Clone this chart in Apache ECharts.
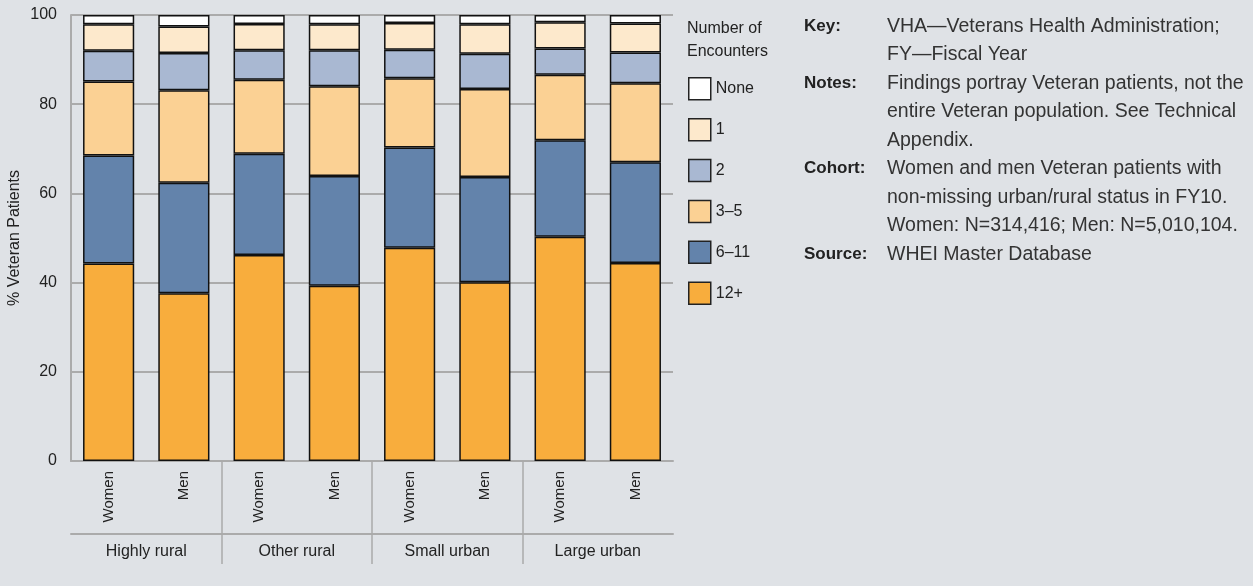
<!DOCTYPE html>
<html>
<head>
<meta charset="utf-8">
<script src="https://cdn.jsdelivr.net/npm/echarts@6/dist/echarts.min.js"></script>
<style>
  html, body { margin: 0; padding: 0; background: #dfe2e6; }
  #chart { width: 1253px; height: 586px; }
</style>
</head>
<body>
<div id="chart"></div>
<script>
// data (% of Veteran patients)
var bars = ['Women', 'Men', 'Women', 'Men', 'Women', 'Men', 'Women', 'Men'];
var groups = ['Highly rural', 'Other rural', 'Small urban', 'Large urban'];
var yTicks = [0, 20, 40, 60, 80, 100];

var enc12plus = [44.3, 37.6, 46.2, 39.3, 47.8, 40.1, 50.3, 44.4];
var enc6to11  = [24.2, 24.8, 22.7, 24.6, 22.5, 23.6, 21.6, 22.6];
var enc3to5   = [16.6, 20.7, 16.6, 20.1, 15.5, 19.7, 14.7, 17.7];
var enc2      = [6.9, 8.4, 6.6, 8.1, 6.4, 7.9, 5.9, 6.9];
var enc1      = [5.9, 5.9, 5.9, 5.8, 6.0, 6.6, 5.9, 6.5];
var encNone   = [2.1, 2.6, 2.0, 2.1, 1.8, 2.1, 1.6, 1.9];

var font = '"Liberation Sans Narrow", "Liberation Sans", Arial, sans-serif';
var gridGray = '#ababab';

function mk(name, data, color) {
  return {
    name: name,
    type: 'bar',
    stack: 'all',
    barWidth: '68%',
    xAxisIndex: 0,
    data: data,
    itemStyle: { color: color, borderColor: '#111', borderWidth: 1.5 }
  };
}

var myChart = echarts.init(document.getElementById('chart'));
myChart.setOption({
  backgroundColor: '#dfe2e6',
  animation: false,
  textStyle: { fontFamily: font },
  title: {
    text: 'Number of\nEncounters',
    left: 682,
    top: 12,
    textStyle: { fontSize: 16, fontWeight: 'normal', color: '#222', lineHeight: 23, fontFamily: font }
  },
  legend: {
    orient: 'vertical',
    left: 683,
    top: 72,
    itemWidth: 22,
    itemHeight: 22,
    itemGap: 17.4,
    icon: 'rect',
    data: ['None', '1', '2', '3–5', '6–11', '12+'],
    itemStyle: { borderColor: '#222', borderWidth: 1.5 },
    textStyle: { fontSize: 16, color: '#222', fontFamily: font }
  },
  grid: { left: 71, right: 580, top: 15, bottom: 125 },
  xAxis: [
    {
      type: 'category',
      data: bars,
      axisLine: { lineStyle: { color: gridGray, width: 2 } },
      axisTick: { show: false },
      axisLabel: { rotate: 90, margin: 10, fontSize: 15, color: '#222', interval: 0 }
    },
    {
      type: 'category',
      data: groups,
      position: 'bottom',
      offset: 73,
      axisLine: { lineStyle: { color: gridGray, width: 2 } },
      axisTick: { show: false },
      axisLabel: { margin: 10, fontSize: 16, color: '#222', interval: 0 }
    },
    {
      type: 'category',
      data: groups.concat(['']),
      boundaryGap: false,
      position: 'bottom',
      offset: 103,
      axisLine: { show: false },
      axisTick: {
        show: true,
        inside: true,
        length: 103,
        interval: function (i) { return i > 0 && i < groups.length; },
        lineStyle: { color: gridGray, width: 1.5 }
      },
      axisLabel: { show: false }
    }
  ],
  yAxis: {
    type: 'value',
    min: yTicks[0],
    max: yTicks[yTicks.length - 1],
    interval: 20,
    name: '% Veteran Patients',
    nameLocation: 'middle',
    nameGap: 48,
    nameTextStyle: { fontSize: 16, color: '#222', fontFamily: font },
    axisLine: { show: true, lineStyle: { color: gridGray, width: 2 } },
    axisTick: { show: false },
    axisLabel: { margin: 14, fontSize: 16, color: '#222' },
    splitLine: { lineStyle: { color: gridGray, width: 2 } }
  },
  series: [
    mk('12+', enc12plus, '#f8ad3d'),
    mk('6–11', enc6to11, '#6383ab'),
    mk('3–5', enc3to5, '#fbd194'),
    mk('2', enc2, '#a9b8d2'),
    mk('1', enc1, '#fde9cc'),
    mk('None', encNone, '#ffffff')
  ],
  graphic: [
    {
      type: 'text',
      left: 804,
      top: 12,
      style: {
        text: 'Key:\n\nNotes:\n\n\nCohort:\n\n\nSource:',
        font: 'bold 17px ' + font,
        lineHeight: 28.5,
        fill: '#222'
      }
    },
    {
      type: 'text',
      left: 887,
      top: 12,
      style: {
        text: 'VHA—Veterans Health Administration;\nFY—Fiscal Year\nFindings portray Veteran patients, not the\nentire Veteran population. See Technical\nAppendix.\nWomen and men Veteran patients with\nnon-missing urban/rural status in FY10.\nWomen: N=314,416; Men: N=5,010,104.\nWHEI Master Database',
        font: '19.5px ' + font,
        lineHeight: 28.5,
        fill: '#333'
      }
    }
  ]
});
</script>
</body>
</html>
